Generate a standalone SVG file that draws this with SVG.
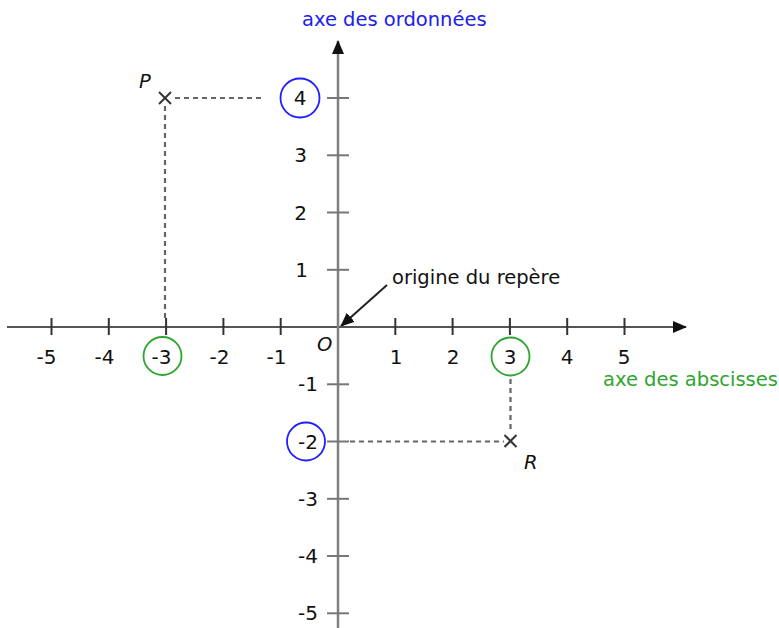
<svg xmlns="http://www.w3.org/2000/svg" width="779" height="628" viewBox="0 0 779 628">
<style>
text{font-family:"DejaVu Sans","Verdana",sans-serif;font-size:19.5px;fill:#111}
.n{font-size:20px}
.xl{text-anchor:middle}
.xn{text-anchor:end}
.yl{text-anchor:end}
.it{font-style:italic}
.axis{stroke:#555;stroke-width:2;fill:none}
.yaxis{stroke:#808080;stroke-width:2.5;fill:none}
.tx{stroke:#333;stroke-width:2}
.ty{stroke:#777;stroke-width:2}
.dash{stroke:#666;stroke-width:2.2;stroke-dasharray:5 4;fill:none}
.cross{stroke:#333;stroke-width:2}
.cg{fill:none;stroke:#2ea52e;stroke-width:1.8}
.cb{fill:none;stroke:#2020ff;stroke-width:1.8}
</style>
<defs>
<marker id="ah2" markerWidth="14" markerHeight="12" refX="13" refY="6" orient="auto" markerUnits="userSpaceOnUse"><path d="M0,0 L14,6 L0,12 Z" fill="#111"/></marker>
</defs>
<g id="connectors">
<line class="dash" x1="175" y1="98" x2="264" y2="98"/>
<line class="dash" x1="165" y1="106" x2="165" y2="320"/>
<line class="dash" x1="350" y1="441.5" x2="504" y2="441.5"/>
<line class="dash" x1="510.5" y1="379" x2="510.5" y2="433"/>
<line x1="387" y1="285" x2="341" y2="326" stroke="#222" stroke-width="2" marker-end="url(#ah2)"/>
</g>
<g id="x-axis">
<line class="axis" x1="7" y1="327" x2="686" y2="327" marker-end="url(#ah2)"/>
<g class="tx">
<line x1="51.5" y1="318" x2="51.5" y2="335"/>
<line x1="108.8" y1="318" x2="108.8" y2="335"/>
<line x1="166.1" y1="318" x2="166.1" y2="335"/>
<line x1="223.4" y1="318" x2="223.4" y2="335"/>
<line x1="280.7" y1="318" x2="280.7" y2="335"/>
<line x1="395.3" y1="318" x2="395.3" y2="335"/>
<line x1="452.6" y1="318" x2="452.6" y2="335"/>
<line x1="509.9" y1="318" x2="509.9" y2="335"/>
<line x1="567.2" y1="318" x2="567.2" y2="335"/>
<line x1="624.5" y1="318" x2="624.5" y2="335"/>
</g>
<text class="xn n" x="56.5" y="364">-5</text>
<text class="xn n" x="114.5" y="364">-4</text>
<text class="xn n" x="171.5" y="364">-3</text>
<text class="xn n" x="229.5" y="364">-2</text>
<text class="xn n" x="286.5" y="364">-1</text>
<text class="xl n" x="396" y="364">1</text>
<text class="xl n" x="453" y="364">2</text>
<text class="xl n" x="510" y="364">3</text>
<text class="xl n" x="567" y="364">4</text>
<text class="xl n" x="624" y="364">5</text>
<text x="603" y="386" style="fill:#2ea52e">axe des abscisses</text>
</g>
<g id="y-axis">
<line class="yaxis" x1="338" y1="628" x2="338" y2="41" marker-end="url(#ah2)"/>
<g class="ty">
<line x1="327" y1="98" x2="349" y2="98"/>
<line x1="327" y1="155.3" x2="349" y2="155.3"/>
<line x1="327" y1="212.5" x2="349" y2="212.5"/>
<line x1="327" y1="269.8" x2="349" y2="269.8"/>
<line x1="327" y1="384.3" x2="349" y2="384.3"/>
<line x1="327" y1="441.5" x2="349" y2="441.5"/>
<line x1="327" y1="498.8" x2="349" y2="498.8"/>
<line x1="327" y1="556" x2="349" y2="556"/>
<line x1="327" y1="613.3" x2="349" y2="613.3"/>
</g>
<text class="xl n" x="300" y="105">4</text>
<text class="yl n" x="307" y="162">3</text>
<text class="yl n" x="307" y="219.5">2</text>
<text class="yl n" x="308" y="277">1</text>
<text class="yl n" x="318" y="391">-1</text>
<text class="yl n" x="318" y="448.5">-2</text>
<text class="yl n" x="318" y="506">-3</text>
<text class="yl n" x="318" y="563">-4</text>
<text class="yl n" x="318" y="620">-5</text>
<text x="302" y="26" style="fill:#2020ee">axe des ordonnées</text>
</g>
<g id="circles">
<circle class="cg" cx="162.5" cy="356" r="19"/>
<circle class="cg" cx="510.5" cy="356.5" r="19"/>
<circle class="cb" cx="300" cy="98" r="19.5"/>
<circle class="cb" cx="306" cy="441.5" r="19"/>
</g>
<g id="origin">
<text class="it" x="317" y="351">O</text>
<text x="392" y="284">origine du repère</text>
</g>
<g id="point-P">
<line class="cross" x1="159" y1="92" x2="171" y2="104"/>
<line class="cross" x1="171" y1="92" x2="159" y2="104"/>
<text class="it" x="139" y="88">P</text>
</g>
<g id="point-R">
<line class="cross" x1="504.5" y1="435" x2="516.5" y2="447"/>
<line class="cross" x1="516.5" y1="435" x2="504.5" y2="447"/>
<text class="it" x="524" y="469">R</text>
</g>
</svg>
